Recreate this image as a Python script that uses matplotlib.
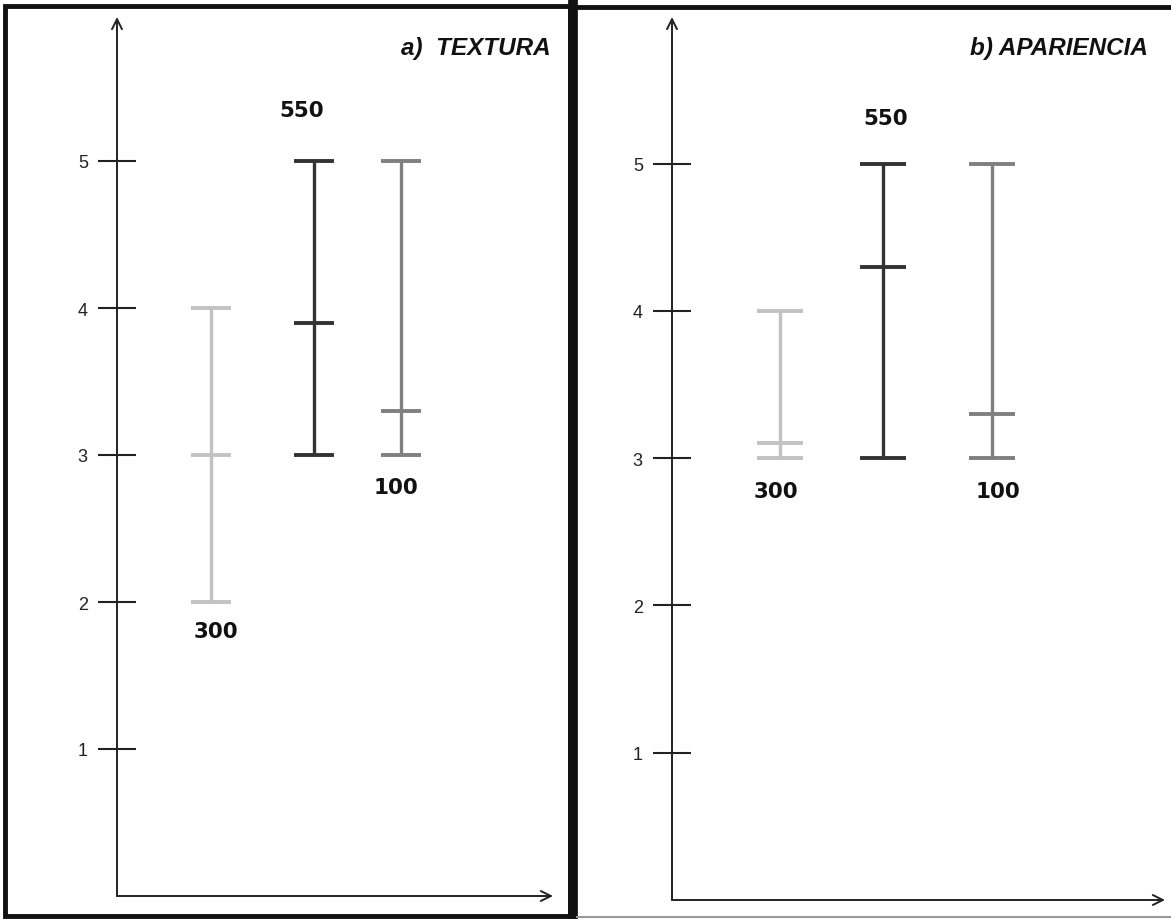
import matplotlib
matplotlib.use("Agg")
import matplotlib.pyplot as plt
from matplotlib.patches import Rectangle
from matplotlib.lines import Line2D

# data: min / median / max per dose
doses = ["300", "550", "100"]
bar_colors = ["#c2c2c2", "#333333", "#808080"]

textura_min = [2.0, 3.0, 3.0]
textura_med = [3.0, 3.9, 3.3]
textura_max = [4.0, 5.0, 5.0]

apariencia_min = [3.0, 3.0, 3.0]
apariencia_med = [3.1, 4.3, 3.3]
apariencia_max = [4.0, 5.0, 5.0]

yticks = [1, 2, 3, 4, 5]

W, H = 1171, 920
fig = plt.figure(figsize=(W / 100, H / 100), dpi=100)


def px_axes(x0, x1, ytop, ybot):
    return fig.add_axes([x0 / W, (H - ybot) / H, (x1 - x0) / W, (ybot - ytop) / H])


def panel(ax, unit, mins, meds, maxs, xpos, label_pos, title, title_x):
    ax.set_xlim(0, 1)
    ax.set_ylim(0, unit)
    for s in ax.spines.values():
        s.set_visible(False)
    ax.set_xticks([])
    ax.set_yticks(yticks)
    ax.set_yticklabels([str(t) for t in yticks], family="Liberation Sans")
    ax.tick_params(axis="y", direction="inout", length=28, width=1.5,
                   color="#222222", labelsize=13, pad=7, labelcolor="#222222")
    # arrows for the axes
    ax.annotate("", xy=(0, 1), xytext=(0, 0), xycoords="axes fraction",
                arrowprops=dict(arrowstyle="->", lw=1.4, color="#222222",
                                shrinkA=0, shrinkB=0, mutation_scale=18))
    ax.annotate("", xy=(1, 0), xytext=(0, 0), xycoords="axes fraction",
                arrowprops=dict(arrowstyle="->", lw=1.4, color="#222222",
                                shrinkA=0, shrinkB=0, mutation_scale=18))
    cap = 0.046
    for i in range(len(doses)):
        x = xpos[i]
        c = bar_colors[i]
        ax.vlines(x, mins[i], maxs[i], color=c, lw=2.4)
        for v in (mins[i], meds[i], maxs[i]):
            ax.hlines(v, x - cap, x + cap, color=c, lw=2.8)
        lx, ly = label_pos[i]
        ax.text(lx, ly, doses[i], ha="center", va="center", fontsize=15.5,
                fontweight="heavy", family="DejaVu Sans", color="#111111")
    ax.text(title_x, 0.978, title, transform=ax.transAxes, ha="right", va="top",
            fontsize=17.5, fontweight="bold", fontstyle="italic",
            family="Liberation Sans", color="#111111")


# left panel: a) TEXTURA
ax1 = px_axes(117, 553, 18, 897)
panel(ax1, (897 - 18) / 147.0, textura_min, textura_med, textura_max,
      [0.216, 0.452, 0.651],
      [(0.226, 1.8), (0.424, 5.35), (0.640, 2.78)],
      "a)  TEXTURA", 0.995)

# right panel: b) APARIENCIA
ax2 = px_axes(672, 1165, 18, 901)
panel(ax2, (901 - 18) / 147.3, apariencia_min, apariencia_med, apariencia_max,
      [0.219, 0.428, 0.649],
      [(0.211, 2.78), (0.434, 5.31), (0.661, 2.78)],
      "b) APARIENCIA", 0.965)

# panel frames
fig.patches.append(Rectangle((5 / W, (H - 917) / H), (570 - 5) / W, (917 - 7) / H,
                             transform=fig.transFigure, fill=False,
                             edgecolor="#111111", lw=3.5))
fig.lines.append(Line2D([573 / W, 573 / W], [(H - 917) / H, (H - 5) / H],
                        transform=fig.transFigure, color="#111111", lw=7))
fig.lines.append(Line2D([573 / W, 1.0], [(H - 8) / H, (H - 8) / H],
                        transform=fig.transFigure, color="#111111", lw=3.5))
fig.lines.append(Line2D([577 / W, 1.0], [(H - 918) / H, (H - 918) / H],
                        transform=fig.transFigure, color="#999999", lw=1.5))

fig.savefig("out.png", dpi=100)
